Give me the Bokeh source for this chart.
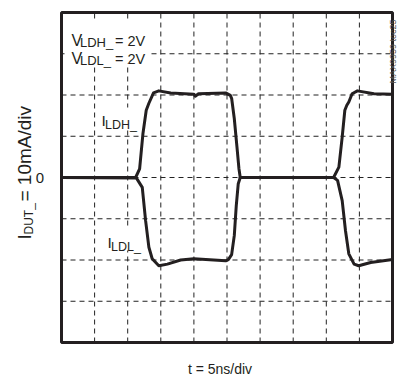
import math
from bokeh.plotting import figure
from bokeh.models import Range1d, Label, BoxAnnotation
from bokeh.embed import file_html
from bokeh.resources import INLINE

# ---- data (time in ns, current in mA) ----
ildh_t = [0.0, 11.2, 11.8, 12.3, 12.8, 13.2, 13.9, 14.7, 16.5, 20.0, 20.2, 20.7, 24.8,
          25.5, 25.7, 26.1, 26.5, 26.8, 27.0, 41.1, 41.9, 42.4, 42.8, 43.1, 43.4, 43.9,
          44.7, 47.2, 50.0]
ildh_i = [0.0, 0.0, 2.1, 10.6, 16.3, 18.0, 20.5, 21.0, 20.5, 20.2, 19.7, 20.3, 20.5,
          19.9, 19.2, 14.3, 7.5, 2.2, 0.0, 0.0, 2.5, 9.8, 16.3, 17.5, 18.3, 20.3,
          21.0, 20.3, 20.2]

ildl_t = [0.0, 11.3, 12.2, 12.7, 13.2, 13.7, 14.7, 16.0, 18.0, 20.0, 24.8, 25.2, 25.7,
          26.1, 26.4, 26.7, 27.0, 41.1, 41.7, 42.4, 42.9, 43.4, 44.2, 44.9, 46.7, 50.0]
ildl_i = [0.0, -0.1, -2.4, -10.4, -16.9, -19.7, -21.4, -21.0, -20.0, -19.7, -20.2, -19.9,
          -18.7, -14.1, -6.8, -1.5, 0.0, 0.0, -0.7, -5.6, -12.9, -18.5, -21.0, -21.4,
          -20.6, -19.9]

x_grid_ticks = [5, 10, 15, 20, 25, 30, 35, 40, 45]
y_grid_ticks = [-30, -20, -10, 0, 10, 20, 30]
y_tick_labels = {0: "0"}

X0, X1, Y0, Y1 = 0.0, 50.0, -40.0, 40.0   # 10 div x 5 ns, 8 div x 10 mA

FONT = "Liberation Sans"
TXT = "#231f20"

# canvas and graticule geometry in page pixels (only for placing things)
W, H = 398, 375
FL, FT, FW, FH = 61.0, 12.0, 331.0, 330.0


def dx(px):
    return X0 + (px - FL) / FW * (X1 - X0)


def dy(py):
    return Y1 - (py - FT) / FH * (Y1 - Y0)


p = figure(width=W, height=H, x_range=Range1d(dx(0), dx(W)), y_range=Range1d(dy(H), dy(0)),
           output_backend="svg", toolbar_location=None, min_border=0)
p.xaxis.visible = False
p.yaxis.visible = False
p.xgrid.visible = False
p.ygrid.visible = False
p.background_fill_color = "white"
p.border_fill_color = "white"
p.outline_line_color = None

# dashed graticule
nx, ny = len(x_grid_ticks), len(y_grid_ticks)
gx = p.segment(x0=x_grid_ticks, y0=[Y0] * nx, x1=x_grid_ticks, y1=[Y1] * nx,
               line_color="#222222", line_width=1, line_dash="5 4")
gy = p.segment(x0=[X0] * ny, y0=y_grid_ticks, x1=[X1] * ny, y1=y_grid_ticks,
               line_color="#222222", line_width=1, line_dash="5 4")
gx.level = "image"
gy.level = "image"

# white boxes behind in-plot texts
for (l, r, t, b) in [(64, 148, 20, 63), (99, 138, 107, 127), (105, 142, 228, 250)]:
    p.add_layout(BoxAnnotation(left=dx(l), right=dx(r), top=dy(t), bottom=dy(b),
                               fill_color="white", fill_alpha=1.0, line_color=None,
                               level="underlay"))

# traces
p.line(ildl_t, ildl_i, line_color=TXT, line_width=3, line_join="round")
p.line(ildh_t, ildh_i, line_color=TXT, line_width=3, line_join="round")

# frame
p.quad(left=[X0], right=[X1], bottom=[Y0], top=[Y1], fill_color=None,
       line_color=TXT, line_width=3)


def lab(px, py, text, size, align="left", baseline="alphabetic", angle=0.0,
        color=TXT):
    p.add_layout(Label(x=dx(px), y=dy(py), text=text, text_font=FONT,
                       text_font_size=f"{size}px", text_align=align,
                       text_baseline=baseline, angle=angle, text_color=color))


# V_LDH_ = 2V / V_LDL_ = 2V
lab(71.0, 40.0, "V", 16)
lab(79.5, 41.5, "LDH_", 13)
lab(114.5, 40.0, "= 2V", 14.5)
lab(71.0, 58.3, "V", 16)
lab(79.5, 59.8, "LDL_", 13)
lab(114.5, 58.3, "= 2V", 14.5)

# I_LDH_ and I_LDL_
lab(101.0, 120.0, "I", 15.5)
lab(104.5, 124.0, "LDH_", 12.5)
lab(107.0, 241.7, "I", 15.5)
lab(110.5, 246.5, "LDL_", 12.5)

# axis texts
for v, t in y_tick_labels.items():
    p.add_layout(Label(x=dx(39.5), y=v, text=t, text_font=FONT, text_font_size="15px",
                       text_align="center", text_baseline="middle", text_color=TXT))
lab(219.5, 368.0, "t = 5ns/div", 14, align="center")
lab(23.5, 239.0, "I", 19, angle=math.pi / 2)
lab(28.5, 234.0, "DUT_", 12, angle=math.pi / 2)
lab(23.5, 201.0, "= 10mA/div", 19, angle=math.pi / 2)

# figure id
lab(397.5, 51.0, "MAX9959 toc25", 9, align="center", baseline="bottom",
    angle=math.pi / 2, color="#555555")

open("out.html", "w").write(file_html(p, INLINE))
